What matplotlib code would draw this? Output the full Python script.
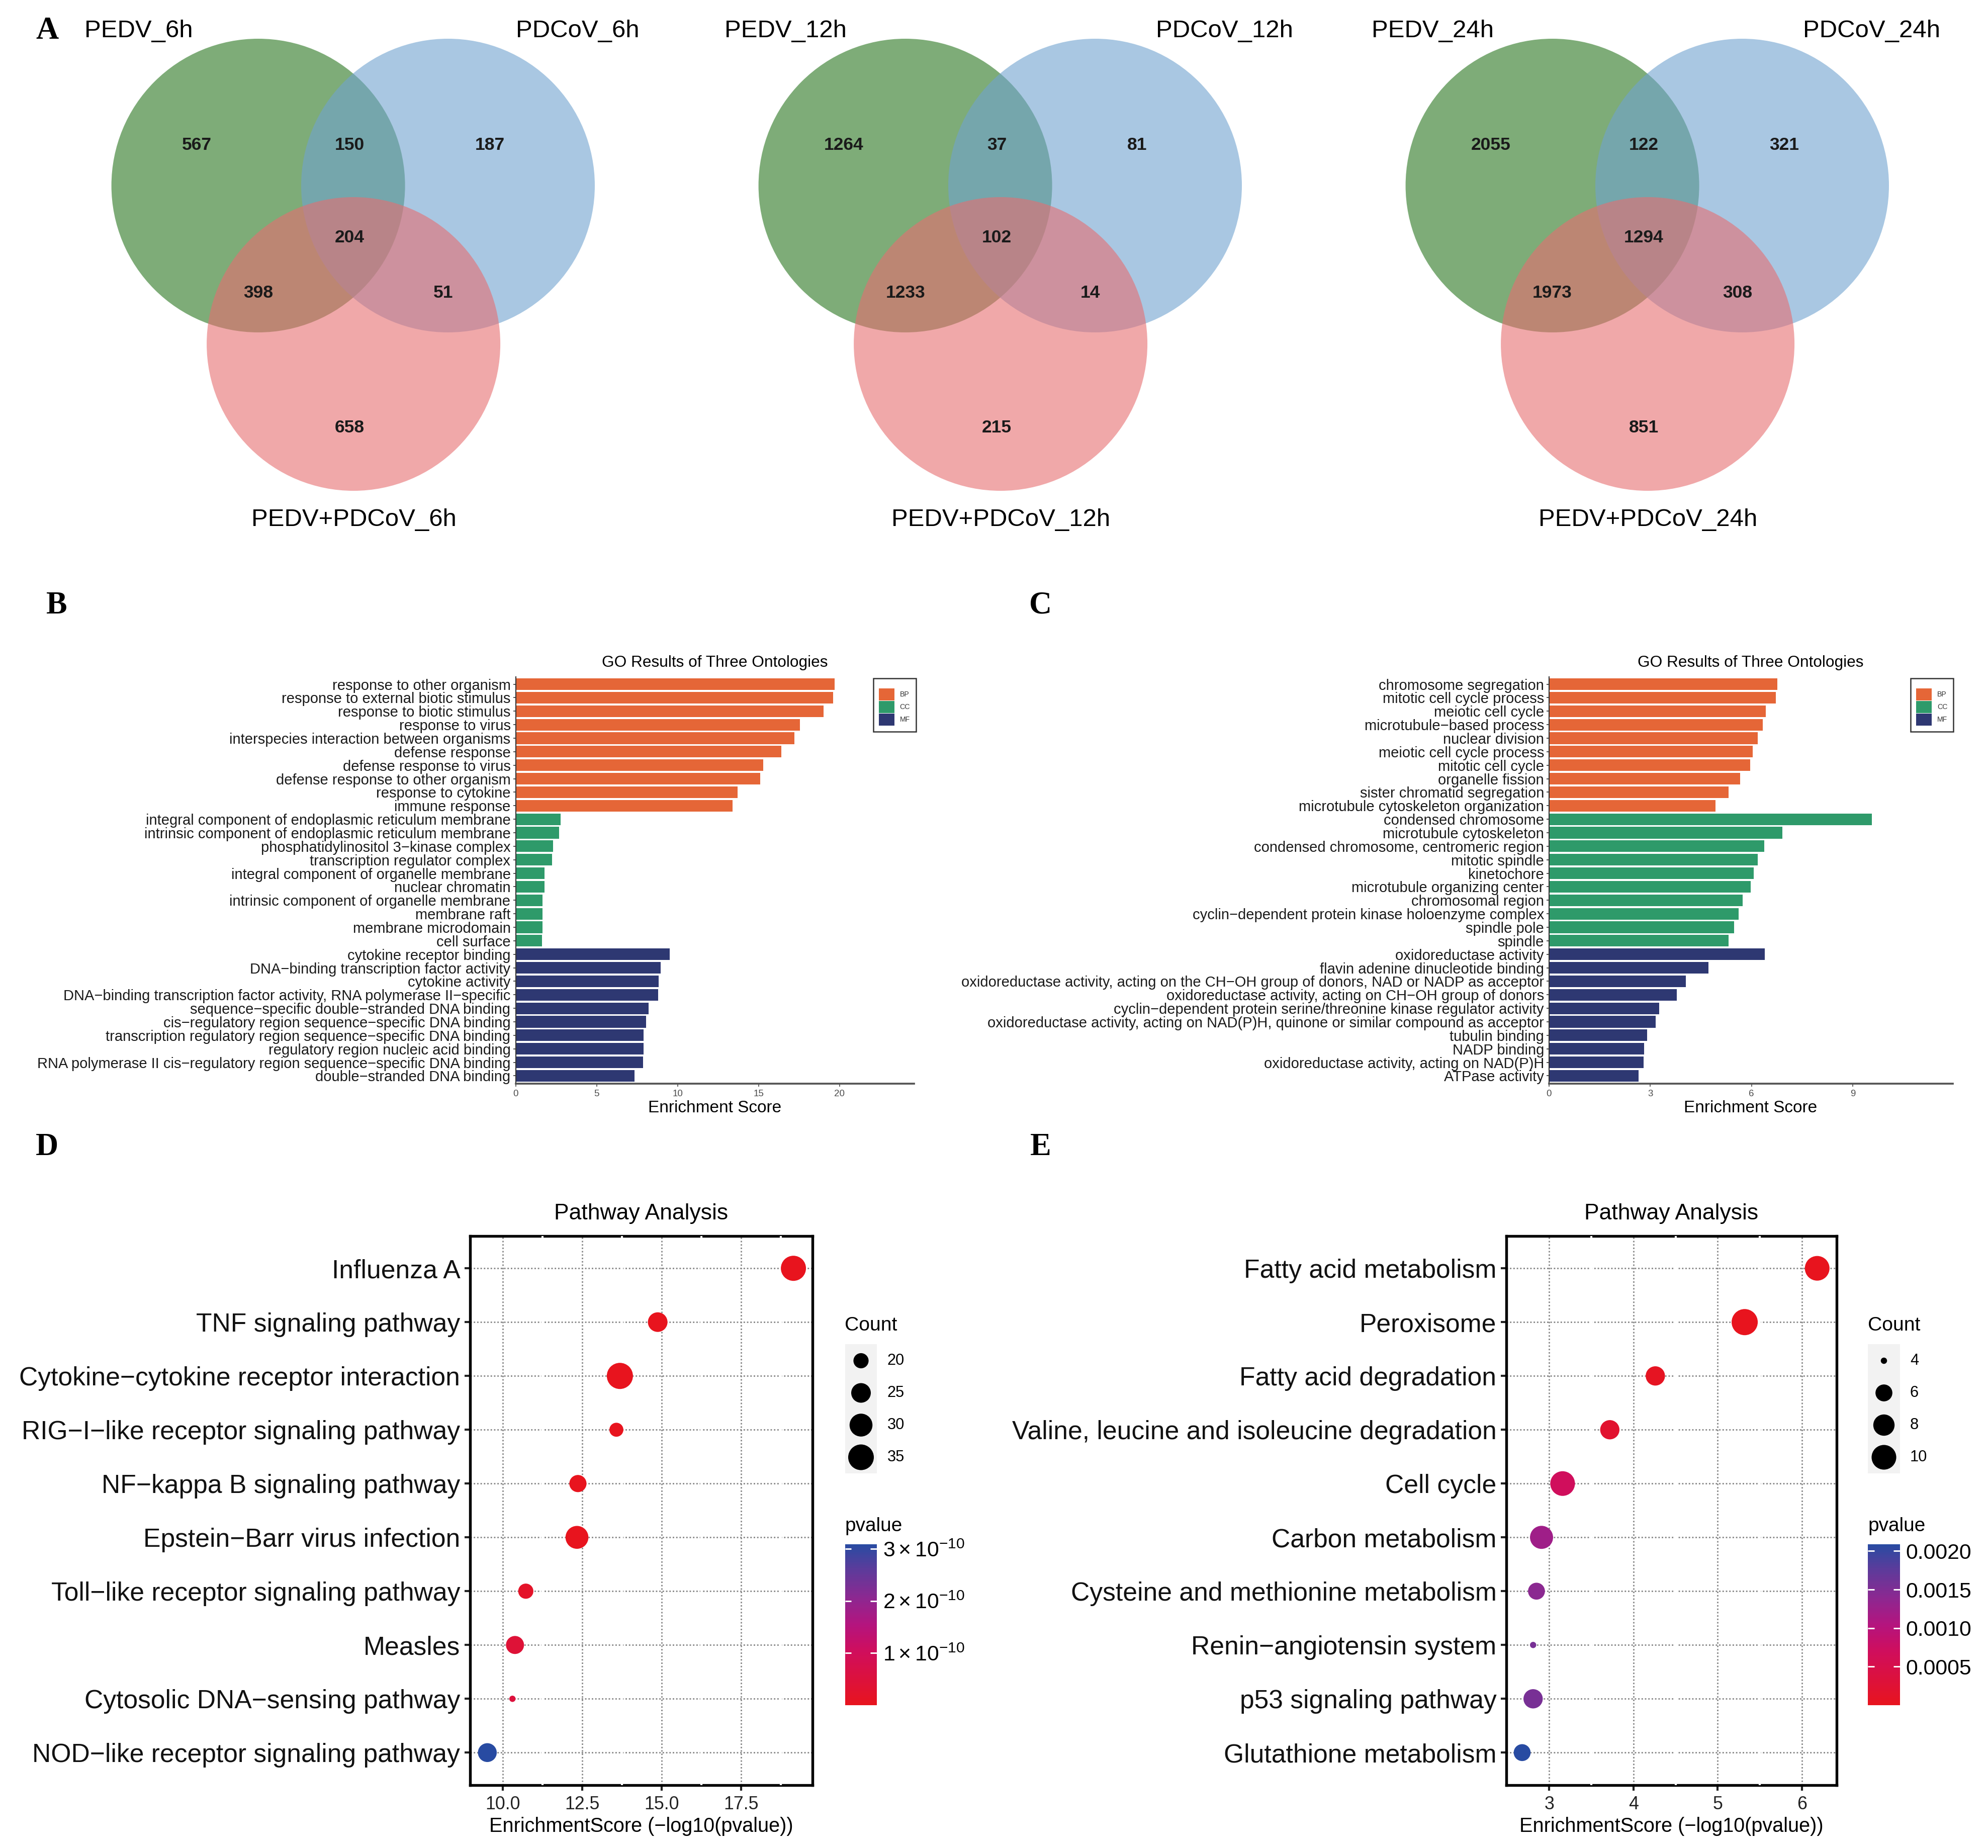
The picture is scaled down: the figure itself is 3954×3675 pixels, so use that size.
import numpy as np
import matplotlib
matplotlib.use('Agg')
import matplotlib.pyplot as plt
from matplotlib.patches import Circle, Rectangle
from matplotlib.colors import LinearSegmentedColormap, Normalize
from matplotlib.cm import ScalarMappable
from matplotlib.ticker import FormatStrFormatter

plt.rcParams['font.family'] = ['Liberation Sans', 'DejaVu Sans']
plt.rcParams['mathtext.fontset'] = 'custom'
plt.rcParams['mathtext.rm'] = 'Liberation Sans'
plt.rcParams['mathtext.it'] = 'Liberation Sans'

# ---------------- data ----------------
venn_sets = [["PEDV_6h", "PDCoV_6h", "PEDV+PDCoV_6h"],
             ["PEDV_12h", "PDCoV_12h", "PEDV+PDCoV_12h"],
             ["PEDV_24h", "PDCoV_24h", "PEDV+PDCoV_24h"]]
# order: PEDV only, PEDV&PDCoV, PDCoV only, all three, PEDV&mix, PDCoV&mix, mix only
venn_6h = [567, 150, 187, 204, 398, 51, 658]
venn_12h = [1264, 37, 81, 102, 1233, 14, 215]
venn_24h = [2055, 122, 321, 1294, 1973, 308, 851]

go_b_terms = ["response to other organism", "response to external biotic stimulus",
              "response to biotic stimulus", "response to virus",
              "interspecies interaction between organisms", "defense response",
              "defense response to virus", "defense response to other organism",
              "response to cytokine", "immune response",
              "integral component of endoplasmic reticulum membrane",
              "intrinsic component of endoplasmic reticulum membrane",
              "phosphatidylinositol 3\u2212kinase complex", "transcription regulator complex",
              "integral component of organelle membrane", "nuclear chromatin",
              "intrinsic component of organelle membrane", "membrane raft",
              "membrane microdomain", "cell surface",
              "cytokine receptor binding", "DNA\u2212binding transcription factor activity",
              "cytokine activity",
              "DNA\u2212binding transcription factor activity, RNA polymerase II\u2212specific",
              "sequence\u2212specific double\u2212stranded DNA binding",
              "cis\u2212regulatory region sequence\u2212specific DNA binding",
              "transcription regulatory region sequence\u2212specific DNA binding",
              "regulatory region nucleic acid binding",
              "RNA polymerase II cis\u2212regulatory region sequence\u2212specific DNA binding",
              "double\u2212stranded DNA binding"]
go_b_scores = [19.7, 19.6, 19.0, 17.55, 17.2, 16.4, 15.3, 15.1, 13.7, 13.4,
               2.78, 2.7, 2.3, 2.25, 1.8, 1.8, 1.65, 1.65, 1.65, 1.62,
               9.5, 8.95, 8.83, 8.8, 8.2, 8.05, 7.9, 7.9, 7.86, 7.33]
go_c_terms = ["chromosome segregation", "mitotic cell cycle process", "meiotic cell cycle",
              "microtubule\u2212based process", "nuclear division", "meiotic cell cycle process",
              "mitotic cell cycle", "organelle fission", "sister chromatid segregation",
              "microtubule cytoskeleton organization",
              "condensed chromosome", "microtubule cytoskeleton",
              "condensed chromosome, centromeric region", "mitotic spindle", "kinetochore",
              "microtubule organizing center", "chromosomal region",
              "cyclin\u2212dependent protein kinase holoenzyme complex", "spindle pole", "spindle",
              "oxidoreductase activity", "flavin adenine dinucleotide binding",
              "oxidoreductase activity, acting on the CH\u2212OH group of donors, NAD or NADP as acceptor",
              "oxidoreductase activity, acting on CH\u2212OH group of donors",
              "cyclin\u2212dependent protein serine/threonine kinase regulator activity",
              "oxidoreductase activity, acting on NAD(P)H, quinone or similar compound as acceptor",
              "tubulin binding", "NADP binding", "oxidoreductase activity, acting on NAD(P)H",
              "ATPase activity"]
go_c_scores = [6.76, 6.72, 6.42, 6.34, 6.18, 6.04, 5.96, 5.66, 5.32, 4.94,
               9.56, 6.92, 6.38, 6.18, 6.06, 5.98, 5.74, 5.62, 5.48, 5.32,
               6.4, 4.72, 4.06, 3.78, 3.26, 3.16, 2.9, 2.82, 2.8, 2.66]
go_classes = ["BP"] * 10 + ["CC"] * 10 + ["MF"] * 10
go_colors = {"BP": "#E56637", "CC": "#2E9A6A", "MF": "#2E3872"}

kegg_d_terms = ["Influenza A", "TNF signaling pathway", "Cytokine\u2212cytokine receptor interaction",
                "RIG\u2212I\u2212like receptor signaling pathway", "NF\u2212kappa B signaling pathway",
                "Epstein\u2212Barr virus infection", "Toll\u2212like receptor signaling pathway",
                "Measles", "Cytosolic DNA\u2212sensing pathway", "NOD\u2212like receptor signaling pathway"]
kegg_d_scores = [19.14, 14.87, 13.68, 13.57, 12.36, 12.33, 10.72, 10.38, 10.30, 9.51]
kegg_d_counts = [34, 25, 36, 19, 22, 30, 20, 23, 16, 24]
kegg_d_pvalues = [7.2e-20, 1.35e-15, 2.1e-14, 2.7e-14, 4.4e-13, 4.7e-13, 1.9e-11, 4.2e-11, 5.0e-11, 3.09e-10]
d_count_breaks = [20, 25, 30, 35]
d_p_ticks = [1e-10, 2e-10, 3e-10]
d_p_labels = [r"$1\times10^{-10}$", r"$2\times10^{-10}$", r"$3\times10^{-10}$"]

kegg_e_terms = ["Fatty acid metabolism", "Peroxisome", "Fatty acid degradation",
                "Valine, leucine and isoleucine degradation", "Cell cycle", "Carbon metabolism",
                "Cysteine and methionine metabolism", "Renin\u2212angiotensin system",
                "p53 signaling pathway", "Glutathione metabolism"]
kegg_e_scores = [6.18, 5.32, 4.26, 3.72, 3.16, 2.91, 2.85, 2.81, 2.81, 2.68]
kegg_e_counts = [10, 11, 7, 7, 10, 9, 6, 4, 7, 6]
kegg_e_pvalues = [6.6e-7, 4.8e-6, 5.5e-5, 1.9e-4, 6.9e-4, 1.23e-3, 1.41e-3, 1.55e-3, 1.55e-3, 2.09e-3]
e_count_breaks = [4, 6, 8, 10]
e_p_ticks = [0.0005, 0.0010, 0.0015, 0.0020]
e_p_labels = ["0.0005", "0.0010", "0.0015", "0.0020"]

# ---------------- figure ----------------
W, H = 3954, 3675
DPI = 300
fig = plt.figure(figsize=(W / DPI, H / DPI), dpi=DPI)
fig.patch.set_facecolor('white')

# overlay in pixel coordinates for venns, letters and free text
ov = fig.add_axes([0, 0, 1, 1])
ov.set_xlim(0, W)
ov.set_ylim(H, 0)
ov.axis('off')


def fig_rect(x0, y0, x1, y1):
    return [x0 / W, 1 - y1 / H, (x1 - x0) / W, (y1 - y0) / H]


# ---- panel A: venn diagrams ----
venn_colors = ["#28761F", "#70A3CF", "#E66E71"]
R = 292
region_offsets = [(-122, -80), (182, -80), (461, -80), (182, 103),
                  (0, 213), (368, 213), (182, 482)]
for k, counts in enumerate([venn_6h, venn_12h, venn_24h]):
    gx, gy = 513.6 + 1287 * k, 369
    centers = [(gx, gy), (gx + 377.4, gy), (gx + 189.5, gy + 315)]
    for (cx, cy), col in zip(centers, venn_colors):
        ov.add_patch(Circle((cx, cy), R, facecolor=col, edgecolor='none', alpha=0.6))
    for (dx, dy), n in zip(region_offsets, counts):
        ov.text(gx + dx, gy + dy, str(n), ha='center', va='center',
                fontsize=8.5, fontweight='bold', color='#1a1a1a')
    names = venn_sets[k]
    ov.text(gx - 238, 62, names[0], ha='center', va='center', fontsize=11.8)
    ov.text(gx + 635, 62, names[1], ha='center', va='center', fontsize=11.8)
    ov.text(gx + 190, 1033, names[2], ha='center', va='center', fontsize=11.8)

# panel letters
for letter, (lx, ly) in zip("ABCDE", [(94, 62), (113, 1205), (2070, 1205), (93, 2282), (2070, 2282)]):
    ov.text(lx, ly, letter, ha='center', va='center', fontsize=15,
            fontweight='bold', family='Liberation Serif')


# ---- panels B and C: GO bars ----
def go_panel(rect, terms, scores, xmax, xticks, cx, legend_x):
    ax = fig.add_axes(rect)
    ax.patch.set_alpha(0)
    y = np.arange(len(terms))
    ax.barh(y, scores, height=0.86, color=[go_colors[c] for c in go_classes])
    ax.set_ylim(len(terms) - 0.44, -0.56)
    ax.set_xlim(0, xmax)
    ax.set_yticks(y)
    ax.set_yticklabels(terms, fontsize=7, color='#1a1a1a')
    ax.set_xticks(xticks)
    ax.tick_params(axis='y', length=1.2, width=0.4, pad=1.2, color='#333333')
    ax.tick_params(axis='x', length=1.5, width=0.4, pad=1.5, labelsize=4.5,
                   labelcolor='#4D4D4D', color='#4D4D4D')
    for s in ['top', 'right']:
        ax.spines[s].set_visible(False)
    ax.spines['left'].set_linewidth(0.5)
    ax.spines['left'].set_color('#333333')
    ax.spines['bottom'].set_linewidth(0.9)
    ax.spines['bottom'].set_color('#555555')
    ov.text(cx, 1318, "GO Results of Three Ontologies", ha='center', va='center', fontsize=7.6)
    ov.text(cx, 2203, "Enrichment Score", ha='center', va='center', fontsize=8)
    # legend box, drawn on top of the bar axes
    fig.add_artist(Rectangle((legend_x / W, 1 - 1455 / H), 85 / W, 106 / H, fill=False,
                             edgecolor='#333333', lw=0.6, transform=fig.transFigure))
    for i, cls in enumerate(["BP", "CC", "MF"]):
        top = 1369 + 25 * i
        fig.add_artist(Rectangle(((legend_x + 11) / W, 1 - (top + 24) / H), 31 / W, 24 / H,
                                 facecolor=go_colors[cls], edgecolor='none',
                                 transform=fig.transFigure))
        fig.text((legend_x + 53) / W, 1 - (top + 12) / H, cls, ha='left', va='center',
                 fontsize=3.4, color='#333333')
    return ax


go_panel(fig_rect(1025.5, 1345.5, 1818, 2154.5), go_b_terms, go_b_scores, 24.6,
         [0, 5, 10, 15, 20], 1422, 1736.7)
go_panel(fig_rect(3080.9, 1345.5, 3883.6, 2154.5), go_c_terms, go_c_scores, 11.96,
         [0, 3, 6, 9], 3482, 3800)

# ---- panels D and E: KEGG dot plots ----
cmap = LinearSegmentedColormap.from_list(
    "pv", [(0.0, "#E8141E"), (0.33, "#D00E5C"), (0.5, "#B4147E"),
           (0.67, "#8C2891"), (0.85, "#5A3C9B"), (1.0, "#284BA2")])
DMIN, DMAX = 12.5, 52.0  # dot diameters in pixels


def dot_area(c, cmin, cmax):
    c = np.asarray(c, dtype=float)
    d = DMIN + (DMAX - DMIN) * np.sqrt((c - cmin) / (cmax - cmin))
    return (d * 72.0 / DPI) ** 2


def kegg_panel(rect, terms, scores, counts, pvals, xlim, xticks, fmt, minor,
               cx, leg_x, breaks, pticks, plabels):
    ax = fig.add_axes(rect)
    y = np.arange(len(terms))
    cmin, cmax = min(counts), max(counts)
    norm = Normalize(vmin=min(pvals), vmax=max(pvals))
    ax.scatter(scores, y, s=dot_area(counts, cmin, cmax), c=pvals, cmap=cmap,
               norm=norm, edgecolors='none', zorder=4)
    ax.set_xlim(*xlim)
    ax.set_ylim(len(terms) - 0.4, -0.6)
    ax.set_yticks(y)
    ax.set_yticklabels(terms, fontsize=12.4, color='#111111')
    ax.set_xticks(xticks)
    ax.xaxis.set_major_formatter(FormatStrFormatter(fmt))
    ax.grid(True, which='major', color='#8C8C8C', lw=0.7, linestyle=(0, (1, 1.3)))
    ax.set_axisbelow(True)
    ax.vlines(minor, 0, 1, transform=ax.get_xaxis_transform(), colors='white',
              lw=1.0, zorder=2.6)
    for s in ax.spines.values():
        s.set_linewidth(1.3)
        s.set_color('black')
    ax.tick_params(axis='both', length=2.6, width=1.0, color='#222222')
    ax.tick_params(axis='x', labelsize=8.6, labelcolor='#222222', pad=2.6)
    ax.tick_params(axis='y', pad=2.0)
    ov.text(cx, 2414, "Pathway Analysis", ha='center', va='center', fontsize=10.7)
    ov.text(cx, 3632, "EnrichmentScore (\u2212log10(pvalue))", ha='center', va='center',
            fontsize=9.5)
    # size legend
    ov.text(leg_x, 2636, "Count", ha='left', va='center', fontsize=9.4)
    ov.add_patch(Rectangle((leg_x, 2673), 63.5, 257, facecolor='#F2F2F2', edgecolor='none'))
    key_y = [2706, 2770, 2834, 2898]
    ov.scatter([leg_x + 32] * len(breaks), key_y, s=dot_area(breaks, cmin, cmax),
               color='black', edgecolors='none', zorder=5)
    for b, ky in zip(breaks, key_y):
        ov.text(leg_x + 84, ky, str(b), ha='left', va='center', fontsize=7.4)
    # colour bar
    ov.text(leg_x, 3035, "pvalue", ha='left', va='center', fontsize=9.3)
    cax = fig.add_axes(fig_rect(leg_x, 3070.7, leg_x + 63.5, 3391))
    cb = fig.colorbar(ScalarMappable(norm=norm, cmap=cmap), cax=cax)
    cb.outline.set_visible(False)
    cb.set_ticks(pticks)
    cb.set_ticklabels(plabels)
    cax.tick_params(length=0, labelsize=10.3, pad=2.8)
    cax.hlines(pticks, 0, 0.2, transform=cax.get_yaxis_transform(), colors='white', lw=0.7)
    cax.hlines(pticks, 0.8, 1, transform=cax.get_yaxis_transform(), colors='white', lw=0.7)
    return ax


kegg_panel(fig_rect(934.5, 2458, 1616, 3549.5), kegg_d_terms, kegg_d_scores, kegg_d_counts,
           kegg_d_pvalues, (8.96, 19.74), [10, 12.5, 15, 17.5], '%.1f',
           [11.25, 13.75, 16.25, 18.75], 1275, 1680.5, d_count_breaks, d_p_ticks, d_p_labels)
kegg_panel(fig_rect(2995.6, 2458, 3652.8, 3549.5), kegg_e_terms, kegg_e_scores, kegg_e_counts,
           kegg_e_pvalues, (2.49, 6.41), [3, 4, 5, 6], '%d',
           [3.5, 4.5, 5.5], 3324, 3715, e_count_breaks, e_p_ticks, e_p_labels)

fig.savefig("out.png", dpi=DPI)
